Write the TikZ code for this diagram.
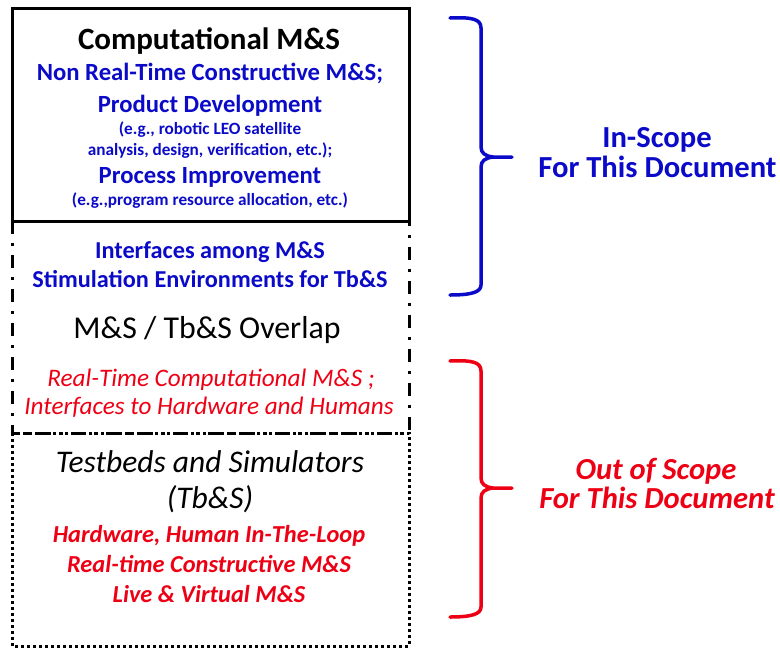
\documentclass[tikz,border=0pt]{standalone}
\usepackage{fontspec}
\setmainfont{Carlito}
\definecolor{msblue}{RGB}{10,10,200}
\definecolor{msred}{RGB}{238,0,20}
\tikzset{
  txt/.style={anchor=base, inner sep=0pt, font=#1},
  boxline/.style={draw=black, line width=3pt},
  dashdotline/.style={boxline, dash pattern=on 13pt off 9pt on 3pt off 9pt},
  dotline/.style={boxline, dash pattern=on 3pt off 3pt},
  bracket/.style={line width=3.5pt, line cap=round, line join=round}
}
\begin{document}
\begin{tikzpicture}[x=1pt, y=-1pt]
\useasboundingbox (0,0) rectangle (780,649);

% --- the three stacked regions ---
\coordinate (tl) at (12,8);
\coordinate (m1) at (409,221);
\coordinate (ml) at (12,221);
\coordinate (m2) at (409,433);
\coordinate (bl) at (12,433);
\coordinate (br) at (409,646);
\draw[dashdotline] (ml) rectangle (m2);
\draw[dotline] (bl) rectangle (br);
\draw[boxline] (tl) rectangle (m1);

% --- Computational M&S ---
\node[txt={\bfseries\fontsize{31}{31}\selectfont}] (comp) at (209,49) {Computational M\&S};
\node[txt={\bfseries\fontsize{24.7}{24.7}\selectfont}, text=msblue] (nrt) at (210,80) {Non Real-Time Constructive M\&S;};
\node[txt={\bfseries\fontsize{24.7}{24.7}\selectfont}, text=msblue] (pd) at (210,112) {Product Development};
\node[txt={\bfseries\fontsize{17.2}{17.2}\selectfont}, text=msblue] (eg1) at (210,134) {(e.g., robotic LEO satellite};
\node[txt={\bfseries\fontsize{17.2}{17.2}\selectfont}, text=msblue] (eg2) at (210,155) {analysis, design, verification, etc.);};
\node[txt={\bfseries\fontsize{24.7}{24.7}\selectfont}, text=msblue] (pi) at (210,183) {Process Improvement};
\node[txt={\bfseries\fontsize{17.2}{17.2}\selectfont}, text=msblue] (eg3) at (210,205) {(e.g.,program resource allocation, etc.)};

% --- overlap region ---
\node[txt={\bfseries\fontsize{24.3}{24.3}\selectfont}, text=msblue] (ifa) at (210,258) {Interfaces among M\&S};
\node[txt={\bfseries\fontsize{24.3}{24.3}\selectfont}, text=msblue] (stim) at (210,287) {Stimulation Environments for Tb\&S};
\node[txt={\fontsize{31.8}{31.8}\selectfont}] (ovl) at (207,338) {M\&S / Tb\&S Overlap};
\node[txt={\itshape\fontsize{25.2}{25.2}\selectfont}, text=msred] (rtc) at (211,386) {Real-Time Computational M\&S ;};
\node[txt={\itshape\fontsize{25.2}{25.2}\selectfont}, text=msred] (ifh) at (209,414) {Interfaces to Hardware and Humans};

% --- testbeds and simulators ---
\node[txt={\itshape\fontsize{31.5}{31.5}\selectfont}] (tbs) at (210,472) {Testbeds and Simulators};
\node[txt={\itshape\fontsize{31.5}{31.5}\selectfont}] (tbsab) at (210,508) {(Tb\&S)};
\node[txt={\bfseries\itshape\fontsize{24.4}{24.4}\selectfont}, text=msred] (hw) at (209,542) {Hardware, Human In-The-Loop};
\node[txt={\bfseries\itshape\fontsize{24.4}{24.4}\selectfont}, text=msred] (rtm) at (209,572) {Real-time Constructive M\&S};
\node[txt={\bfseries\itshape\fontsize{24.4}{24.4}\selectfont}, text=msred] (lv) at (209,602) {Live \& Virtual M\&S};

% --- scope brackets ---
\draw[bracket, msblue] (450,18) .. controls (472,17) and (481,19) .. (481,28) -- (481,147)
  .. controls (481,153) and (485,156) .. (493,157) -- (512,157);
\draw[bracket, msblue] (493,157) .. controls (485,158) and (481,161) .. (481,167) -- (481,285)
  .. controls (481,292) and (472,295) .. (450,295);
\draw[bracket, msred] (450,361) .. controls (472,360) and (481,362) .. (481,371) -- (481,478)
  .. controls (481,484) and (485,487) .. (493,488) -- (512,488);
\draw[bracket, msred] (493,488) .. controls (485,489) and (481,492) .. (481,498) -- (481,607)
  .. controls (481,614) and (472,617) .. (450,617);

\node[txt={\bfseries\fontsize{30.6}{30.6}\selectfont}, text=msblue] (in1) at (657,147) {In-Scope};
\node[txt={\bfseries\fontsize{30.6}{30.6}\selectfont}, text=msblue] (in2) at (657.5,177) {For This Document};
\node[txt={\bfseries\itshape\fontsize{30.6}{30.6}\selectfont}, text=msred] (out1) at (656,479) {Out of Scope};
\node[txt={\bfseries\itshape\fontsize{30.6}{30.6}\selectfont}, text=msred] (out2) at (657,508) {For This Document};
\end{tikzpicture}
\end{document}
